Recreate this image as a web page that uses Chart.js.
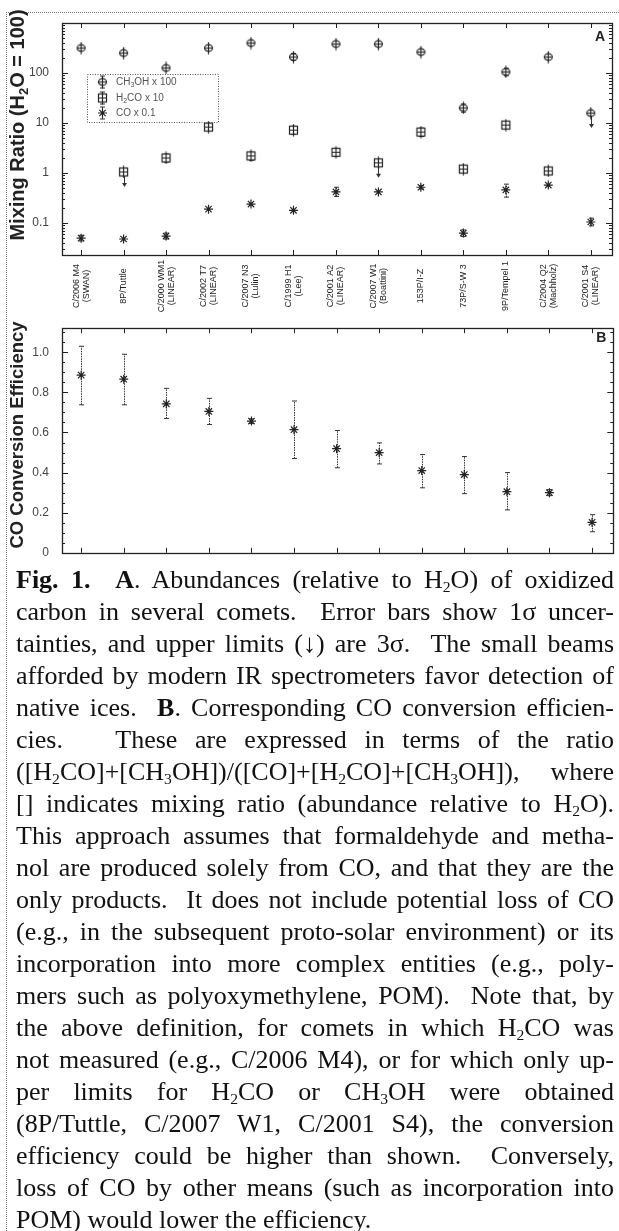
<!DOCTYPE html>
<html>
<head>
<meta charset="utf-8">
<script src="https://cdn.jsdelivr.net/npm/chart.js@4.4.0/dist/chart.umd.min.js"></script>
<style>
  html, body { margin: 0; padding: 0; background: #fff; }
  #page { position: relative; width: 619px; height: 1231px; overflow: hidden; }
  #frame { position: absolute; left: 6px; top: 12px; width: 640px; height: 1260px;
           border-left: 1px dotted #777; border-top: 1px dotted #777; }
  #wrapA { position: absolute; left: 0; top: 0; width: 619px; height: 316px; }
  #wrapB { position: absolute; left: 0; top: 316px; width: 619px; height: 249px; }
  #caption { position: absolute; left: 16px; top: 564px; width: 598px;
             font-family: 'Liberation Serif', 'Times New Roman', serif; font-size: 26px;
             line-height: 32px; color: #111; }
  #caption div { text-align: justify; text-align-last: justify; height: 32px; overflow: hidden; }
  #caption div.last { text-align-last: left; }
  #caption sub { font-size: 0.6em; line-height: 0; vertical-align: -0.25em; }
</style>
</head>
<body>
<div id="page">
  <div id="frame"></div>
  <div id="wrapA"><canvas id="chartA"></canvas></div>
  <div id="wrapB"><canvas id="chartB"></canvas></div>
  <div id="caption">
    <div><b>Fig. 1.</b>&nbsp; <b>A</b>. Abundances (relative to H<sub>2</sub>O) of oxidized</div>
    <div>carbon in several comets.&nbsp; Error bars show 1σ uncer-</div>
    <div>tainties, and upper limits (↓) are 3σ.&nbsp; The small beams</div>
    <div>afforded by modern IR spectrometers favor detection of</div>
    <div>native ices.&nbsp; <b>B</b>. Corresponding CO conversion efficien-</div>
    <div>cies.&nbsp;&nbsp; These are expressed in terms of the ratio</div>
    <div>([H<sub>2</sub>CO]+[CH<sub>3</sub>OH])/([CO]+[H<sub>2</sub>CO]+[CH<sub>3</sub>OH]), where</div>
    <div>[] indicates mixing ratio (abundance relative to H<sub>2</sub>O).</div>
    <div>This approach assumes that formaldehyde and metha-</div>
    <div>nol are produced solely from CO, and that they are the</div>
    <div>only products.&nbsp; It does not include potential loss of CO</div>
    <div>(e.g., in the subsequent proto-solar environment) or its</div>
    <div>incorporation into more complex entities (e.g., poly-</div>
    <div>mers such as polyoxymethylene, POM).&nbsp; Note that, by</div>
    <div>the above definition, for comets in which H<sub>2</sub>CO was</div>
    <div>not measured (e.g., C/2006 M4), or for which only up-</div>
    <div>per limits for H<sub>2</sub>CO or CH<sub>3</sub>OH were obtained</div>
    <div>(8P/Tuttle, C/2007 W1, C/2001 S4), the conversion</div>
    <div>efficiency could be higher than shown.&nbsp; Conversely,</div>
    <div>loss of CO by other means (such as incorporation into</div>
    <div class="last">POM) would lower the efficiency.</div>
  </div>
</div>
<script>
// comets along the x axis (shared by both panels)
const comets = [
  ['C/2006 M4', '(SWAN)'], ['8P/Tuttle'], ['C/2000 WM1', '(LINEAR)'], ['C/2002 T7', '(LINEAR)'],
  ['C/2007 N3', '(Lulin)'], ['C/1999 H1', '(Lee)'], ['C/2001 A2', '(LINEAR)'], ['C/2007 W1', '(Boattini)'],
  ['153P/I-Z'], ['73P/S-W 3'], ['9P/Tempel 1'], ['C/2004 Q2', '(Machholz)'], ['C/2001 S4', '(LINEAR)']
];

// panel A: mixing ratios (H2O = 100), scaled as in the legend
const ch3oh   = [316, 251, 126, 316, 398, 209, 380, 380, 263, 20, 105, 209, 15.8];
const ch3ohLo = [null, null, null, null, null, 180, null, null, 235, 16.5, 88, null, null];
const ch3ohHi = [null, null, null, null, null, 245, null, null, 295, 24, 125, null, null];
const ch3ohUL = [0, 0, 0, 0, 0, 0, 0, 0, 0, 0, 0, 0, 1];

const h2co   = [null, 1.05, 2.0, 8.3, 2.2, 7.2, 2.6, 1.6, 6.6, 1.2, 9.1, 1.1, null];
const h2coLo = [null, null, 1.65, null, 1.8, 6.0, 2.2, null, 5.4, 1.05, 7.8, 0.95, null];
const h2coHi = [null, null, 2.4, null, 2.6, 8.6, 3.0, null, 7.9, 1.35, 10.5, 1.28, null];
const h2coUL = [0, 1, 0, 0, 0, 0, 0, 1, 0, 0, 0, 0, 0];

const co   = [0.05, 0.048, 0.055, 0.19, 0.24, 0.18, 0.42, 0.42, 0.52, 0.063, 0.46, 0.575, 0.105];
const coLo = [0.044, null, 0.048, null, null, null, 0.34, null, 0.48, 0.054, 0.33, null, 0.088];
const coHi = [0.057, null, 0.063, null, null, null, 0.52, null, 0.56, 0.073, 0.60, null, 0.125];

const aTicks = [0.1, 1, 10, 100];
const aTickLabels = ['0.1', '1', '10', '100'];

// panel B: CO conversion efficiency
const eff   = [0.886, 0.866, 0.743, 0.705, 0.657, 0.614, 0.519, 0.500, 0.410, 0.390, 0.305, 0.300, 0.152];
const effLo = [0.738, 0.738, 0.670, 0.640, 0.645, 0.470, 0.424, 0.443, 0.324, 0.295, 0.214, 0.285, 0.105];
const effHi = [1.030, 0.990, 0.820, 0.770, 0.668, 0.757, 0.610, 0.548, 0.490, 0.480, 0.400, 0.315, 0.190];

const bTicks = [0, 0.2, 0.4, 0.6, 0.8, 1.0];
const bTickLabels = ['0', '0.2', '0.4', '0.6', '0.8', '1.0'];

const INK = '#222';
const SANS = "'Liberation Sans', Arial, sans-serif";

function xy(vals) {
  return vals.map((v, i) => ({ x: i, y: v }));
}

// point symbols drawn once on small canvases
function symbol(kind) {
  const c = document.createElement('canvas');
  c.width = 13; c.height = 13;
  const g = c.getContext('2d');
  g.strokeStyle = INK; g.lineWidth = 1.2; g.fillStyle = '#fff';
  if (kind === 'circle') {
    g.beginPath(); g.ellipse(6.5, 6.5, 4, 3.3, 0, 0, Math.PI * 2); g.fill(); g.stroke();
  } else {
    g.fillRect(2.5, 2.5, 8, 8); g.strokeRect(2.5, 2.5, 8, 8);
  }
  g.beginPath();
  g.moveTo(6.5, 0.5); g.lineTo(6.5, 12.5);
  g.moveTo(2, 6.5); g.lineTo(11, 6.5);
  g.stroke();
  return c;
}
const circPlus = symbol('circle');
const squarePlus = symbol('square');

// text with subscripts: parts = [[text, isSub], ...]
function richWidth(ctx, parts, size, weight) {
  let w = 0;
  parts.forEach(([t, sub]) => {
    ctx.font = `${weight} ${sub ? Math.round(size * 0.65) : size}px ${SANS}`;
    w += ctx.measureText(t).width;
  });
  return w;
}
function drawRich(ctx, parts, x, y, size, weight) {
  let cx = x;
  parts.forEach(([t, sub]) => {
    ctx.font = `${weight} ${sub ? Math.round(size * 0.65) : size}px ${SANS}`;
    ctx.fillText(t, cx, sub ? y + size * 0.3 : y);
    cx += ctx.measureText(t).width;
  });
}

const errorBars = {
  id: 'errorBars',
  beforeDatasetsDraw(chart) {
    const ctx = chart.ctx, ys = chart.scales.y;
    ctx.save();
    ctx.strokeStyle = '#333';
    ctx.fillStyle = '#333';
    ctx.lineWidth = 1;
    chart.data.datasets.forEach((ds, di) => {
      const meta = chart.getDatasetMeta(di);
      meta.data.forEach((pt, j) => {
        if (ds.data[j].y == null) return;
        const x = Math.round(pt.x) + 0.5;
        if (ds.errLo && ds.errLo[j] != null) {
          const y1 = ys.getPixelForValue(ds.errLo[j]);
          const y2 = ys.getPixelForValue(ds.errHi[j]);
          ctx.setLineDash([1.5, 1]);
          ctx.beginPath(); ctx.moveTo(x, y1); ctx.lineTo(x, y2); ctx.stroke();
          ctx.setLineDash([]);
          ctx.beginPath();
          ctx.moveTo(x - 2.5, y1); ctx.lineTo(x + 2.5, y1);
          ctx.moveTo(x - 2.5, y2); ctx.lineTo(x + 2.5, y2);
          ctx.stroke();
        }
        if (ds.upper && ds.upper[j]) {
          const y0 = pt.y, y1 = pt.y + 15;
          ctx.beginPath(); ctx.moveTo(x, y0); ctx.lineTo(x, y1 - 3); ctx.stroke();
          ctx.beginPath();
          ctx.moveTo(x - 2.5, y1 - 4); ctx.lineTo(x + 2.5, y1 - 4); ctx.lineTo(x, y1); ctx.closePath();
          ctx.fill();
        }
      });
    });
    ctx.restore();
  }
};

// box round the plot with inward ticks on all four sides
const frame = {
  id: 'frame',
  afterDraw(chart, args, opts) {
    const ctx = chart.ctx, a = chart.chartArea;
    const xs = chart.scales.x, ys = chart.scales.y;
    ctx.save();
    ctx.strokeStyle = INK;
    ctx.lineWidth = 1.3;
    ctx.strokeRect(Math.round(a.left) + 0.5, Math.round(a.top) + 0.5,
                   Math.round(a.right - a.left), Math.round(a.bottom - a.top));
    ctx.lineWidth = 1;
    ctx.beginPath();
    comets.forEach((c, i) => {
      const x = Math.round(xs.getPixelForValue(i)) + 0.5;
      ctx.moveTo(x, a.bottom); ctx.lineTo(x, a.bottom - 5);
      ctx.moveTo(x, a.top); ctx.lineTo(x, a.top + 5);
    });
    const tick = (v, len) => {
      const y = Math.round(ys.getPixelForValue(v)) + 0.5;
      if (y < a.top - 0.5 || y > a.bottom + 0.5) return;
      ctx.moveTo(a.left, y); ctx.lineTo(a.left + len, y);
      ctx.moveTo(a.right, y); ctx.lineTo(a.right - len, y);
    };
    opts.major.forEach(v => tick(v, 6));
    opts.minor.forEach(v => tick(v, 3));
    ctx.stroke();
    // panel letter
    ctx.fillStyle = INK;
    ctx.font = `bold 14px ${SANS}`;
    ctx.textAlign = 'center';
    ctx.textBaseline = 'middle';
    ctx.fillText(opts.letter, a.right - 12, a.top + opts.letterDy);
    // axis title
    ctx.save();
    ctx.translate(18, opts.titleY);
    ctx.rotate(-Math.PI / 2);
    ctx.textAlign = 'left';
    ctx.textBaseline = 'middle';
    const w = richWidth(ctx, opts.title, opts.titleSize, 'bold');
    drawRich(ctx, opts.title, -w / 2, 0, opts.titleSize, 'bold');
    ctx.restore();
    ctx.restore();
  }
};

// rotated comet names under panel A
const cometLabels = {
  id: 'cometLabels',
  afterDraw(chart) {
    const ctx = chart.ctx, xs = chart.scales.x;
    ctx.save();
    ctx.fillStyle = '#222';
    ctx.font = `9px ${SANS}`;
    ctx.textAlign = 'center';
    ctx.textBaseline = 'middle';
    comets.forEach((lines, i) => {
      ctx.save();
      ctx.translate(xs.getPixelForValue(i), 286);
      ctx.rotate(-Math.PI / 2);
      lines.forEach((t, k) => ctx.fillText(t, 0, (k - (lines.length - 1) / 2) * 10));
      ctx.restore();
    });
    ctx.restore();
  }
};

const legendBox = {
  id: 'legendBox',
  afterDraw(chart) {
    const ctx = chart.ctx;
    ctx.save();
    ctx.strokeStyle = '#555';
    ctx.setLineDash([1, 1.5]);
    ctx.strokeRect(87.5, 74.5, 131, 48);
    ctx.setLineDash([]);
    const rows = [
      { y: 82, style: circPlus, parts: [['CH', 0], ['3', 1], ['OH x 100', 0]] },
      { y: 98, style: squarePlus, parts: [['H', 0], ['2', 1], ['CO x 10', 0]] },
      { y: 113, style: 'star', parts: [['CO x 0.1', 0]] }
    ];
    rows.forEach(r => {
      ctx.strokeStyle = '#333';
      ctx.lineWidth = 1;
      ctx.beginPath();
      ctx.moveTo(102.5, r.y - 6); ctx.lineTo(102.5, r.y + 6);
      ctx.moveTo(100, r.y - 6); ctx.lineTo(105, r.y - 6);
      ctx.moveTo(100, r.y + 6); ctx.lineTo(105, r.y + 6);
      ctx.stroke();
      ctx.strokeStyle = INK; ctx.fillStyle = '#fff'; ctx.lineWidth = 1.2;
      Chart.helpers.drawPoint(ctx, { pointStyle: r.style, radius: 4.5, borderWidth: 1.2, rotation: 0 }, 102.5, r.y);
      ctx.fillStyle = '#555';
      ctx.textAlign = 'left';
      ctx.textBaseline = 'middle';
      drawRich(ctx, r.parts, 116, r.y, 10, 'normal');
    });
    ctx.restore();
  }
};

function logMinor(min, max) {
  const out = [];
  for (let k = -2; k <= 3; k++) {
    for (let m = 2; m <= 9; m++) {
      const v = m * Math.pow(10, k);
      if (v > min && v < max) out.push(v);
    }
  }
  return out;
}

const base = {
  animation: false,
  responsive: true,
  maintainAspectRatio: false,
  devicePixelRatio: 1,
  events: []
};

const xAxis = (h) => ({
  type: 'linear', min: -0.45, max: 12.5,
  ticks: { display: false },
  grid: { display: false },
  border: { display: false },
  afterFit: s => { s.height = h; }
});

new Chart(document.getElementById('chartA'), {
  type: 'scatter',
  data: {
    datasets: [
      { label: 'CH3OH x 100', data: xy(ch3oh), errLo: ch3ohLo, errHi: ch3ohHi, upper: ch3ohUL,
        pointStyle: circPlus, pointRadius: 6 },
      { label: 'H2CO x 10', data: xy(h2co), errLo: h2coLo, errHi: h2coHi, upper: h2coUL,
        pointStyle: squarePlus, pointRadius: 6 },
      { label: 'CO x 0.1', data: xy(co), errLo: coLo, errHi: coHi,
        pointStyle: 'star', pointRadius: 4.5, borderColor: INK, borderWidth: 1.2 }
    ]
  },
  options: {
    ...base,
    layout: { padding: { top: 23, right: 4, left: 0, bottom: 0 } },
    plugins: {
      legend: { display: false }, tooltip: { enabled: false },
      frame: { major: aTicks, minor: logMinor(0.023, 1000), letter: 'A', letterDy: 14,
               titleY: 125, titleSize: 20, title: [['Mixing Ratio (H', 0], ['2', 1], ['O = 100)', 0]] }
    },
    scales: {
      x: xAxis(61),
      y: {
        type: 'logarithmic', min: 0.023, max: 1000,
        afterBuildTicks: s => { s.ticks = aTicks.map(v => ({ value: v })); },
        afterFit: s => { s.width = 62; },
        ticks: { autoSkip: false, padding: 5, color: '#444', font: { family: SANS, size: 12 },
                 callback: v => aTickLabels[aTicks.indexOf(v)] },
        grid: { display: false },
        border: { display: false }
      }
    }
  },
  plugins: [errorBars, frame, cometLabels, legendBox]
});

new Chart(document.getElementById('chartB'), {
  type: 'scatter',
  data: {
    datasets: [
      { label: 'CO conversion efficiency', data: xy(eff), errLo: effLo, errHi: effHi,
        pointStyle: 'star', pointRadius: 4.5, borderColor: INK, borderWidth: 1.2 }
    ]
  },
  options: {
    ...base,
    layout: { padding: { top: 4, right: 4, left: 0, bottom: 0 } },
    plugins: {
      legend: { display: false }, tooltip: { enabled: false },
      frame: { major: bTicks, minor: [0.05, 0.1, 0.15, 0.25, 0.3, 0.35, 0.45, 0.5, 0.55, 0.65, 0.7, 0.75, 0.85, 0.9, 0.95, 1.05, 1.1],
               letter: 'B', letterDy: 10, titleY: 119, titleSize: 18.5, title: [['CO Conversion Efficiency', 0]] }
    },
    scales: {
      x: xAxis(10),
      y: {
        type: 'linear', min: 0, max: 1.12,
        afterBuildTicks: s => { s.ticks = bTicks.map(v => ({ value: v })); },
        afterFit: s => { s.width = 62; },
        ticks: { autoSkip: false, padding: 5, color: '#444', font: { family: SANS, size: 12 },
                 callback: v => bTickLabels[bTicks.indexOf(v)] },
        grid: { display: false },
        border: { display: false }
      }
    }
  },
  plugins: [errorBars, frame]
});
</script>
</body>
</html>
